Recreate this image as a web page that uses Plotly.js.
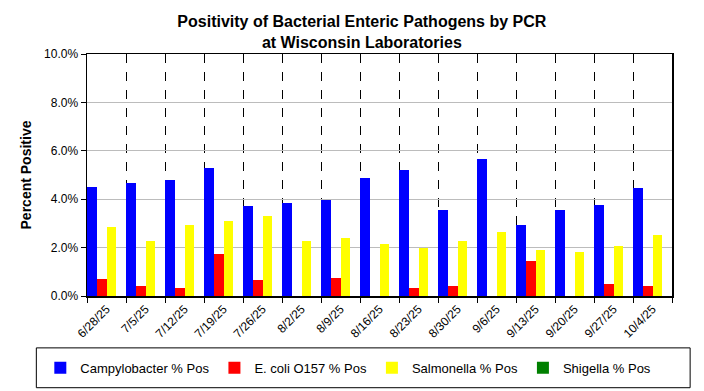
<!DOCTYPE html>
<html>
<head>
<meta charset="utf-8">
<script src="https://cdn.plot.ly/plotly-3.0.1.min.js"></script>
<style>html,body{margin:0;padding:0;background:#fff;}#chart{width:704px;height:391px;}</style>
</head>
<body>
<div id="chart"></div>
<script>
var dates = ["6/28/25","7/5/25","7/12/25","7/19/25","7/26/25","8/2/25","8/9/25","8/16/25","8/23/25","8/30/25","9/6/25","9/13/25","9/20/25","9/27/25","10/4/25"];
var campylobacter = [4.49,4.66,4.78,5.28,3.71,3.84,3.96,4.86,5.19,3.55,5.65,2.93,3.55,3.75,4.45];
var ecoli = [0.70,0.41,0.33,1.73,0.66,0,0.74,0,0.33,0.41,0,1.44,0,0.49,0.41];
var salmonella = [2.85,2.27,2.93,3.09,3.30,2.27,2.39,2.14,1.98,2.27,2.64,1.90,1.81,2.06,2.51];
var shigella = [0,0,0,0,0,0,0,0,0,0,0,0,0,0,0];
var seriesNames = ["Campylobacter % Pos","E. coli O157 % Pos","Salmonella % Pos","Shigella % Pos"];
var seriesColors = ["#0000FF","#FF0000","#FFFF00","#008000"];
var seriesValues = [campylobacter, ecoli, salmonella, shigella];

var FONT = "Liberation Sans, Arial, sans-serif";
var traces = seriesValues.map(function(v, i){
  return {type:"bar", x:dates, y:v, name:seriesNames[i], marker:{color:seriesColors[i], line:{width:0}}, hoverinfo:"x+y+name"};
});

var layout = {
  width:704, height:391,
  margin:{l:87, r:32, t:54, b:95, pad:0, autoexpand:false},
  paper_bgcolor:"#fff", plot_bgcolor:"#fff",
  font:{family:FONT, size:12, color:"#000"},
  barmode:"group", bargap:0, bargroupgap:0,
  title:{text:"<b>Positivity of Bacterial Enteric Pathogens by PCR<br>at Wisconsin Laboratories</b>", font:{family:FONT, size:16, color:"#000"}, x:0.514, xref:"container", xanchor:"center", y:0.93, yref:"container", yanchor:"top"},
  xaxis:{type:"category", tickson:"boundaries", showgrid:true, gridcolor:"#000", griddash:"dash", gridwidth:1,
    showline:true, linecolor:"#000", linewidth:1.5, mirror:true, ticks:"outside", ticklen:5, tickcolor:"#000",
    tickangle:-45, tickfont:{family:FONT, size:12}, automargin:false},
  yaxis:{range:[0,10], dtick:2, tick0:0, tickformat:".1f", ticksuffix:"%", showgrid:true, gridcolor:"#bcbcbc", gridwidth:1,
    showline:true, linecolor:"#000", linewidth:1.5, mirror:true, ticks:"outside", ticklen:5, tickcolor:"#000", zeroline:false,
    tickfont:{family:FONT, size:12}, automargin:false,
    title:{text:"<b>Percent Positive</b>", font:{family:FONT, size:14}, standoff:9}},
  showlegend:true,
  legend:{orientation:"h", x:-0.0798, xanchor:"left", y:-0.297, yanchor:"middle", bgcolor:"rgba(0,0,0,0)", borderwidth:0,
    font:{family:FONT, size:13}, itemwidth:30, traceorder:"normal"},
  shapes:[{type:"rect", xref:"paper", yref:"paper", x0:-0.0866, x1:1.031, y0:-0.379, y1:-0.2144, line:{color:"#000", width:1}, fillcolor:"rgba(0,0,0,0)"}]
};
Plotly.newPlot("chart", traces, layout, {displayModeBar:false, staticPlot:true});
</script>
</body>
</html>
